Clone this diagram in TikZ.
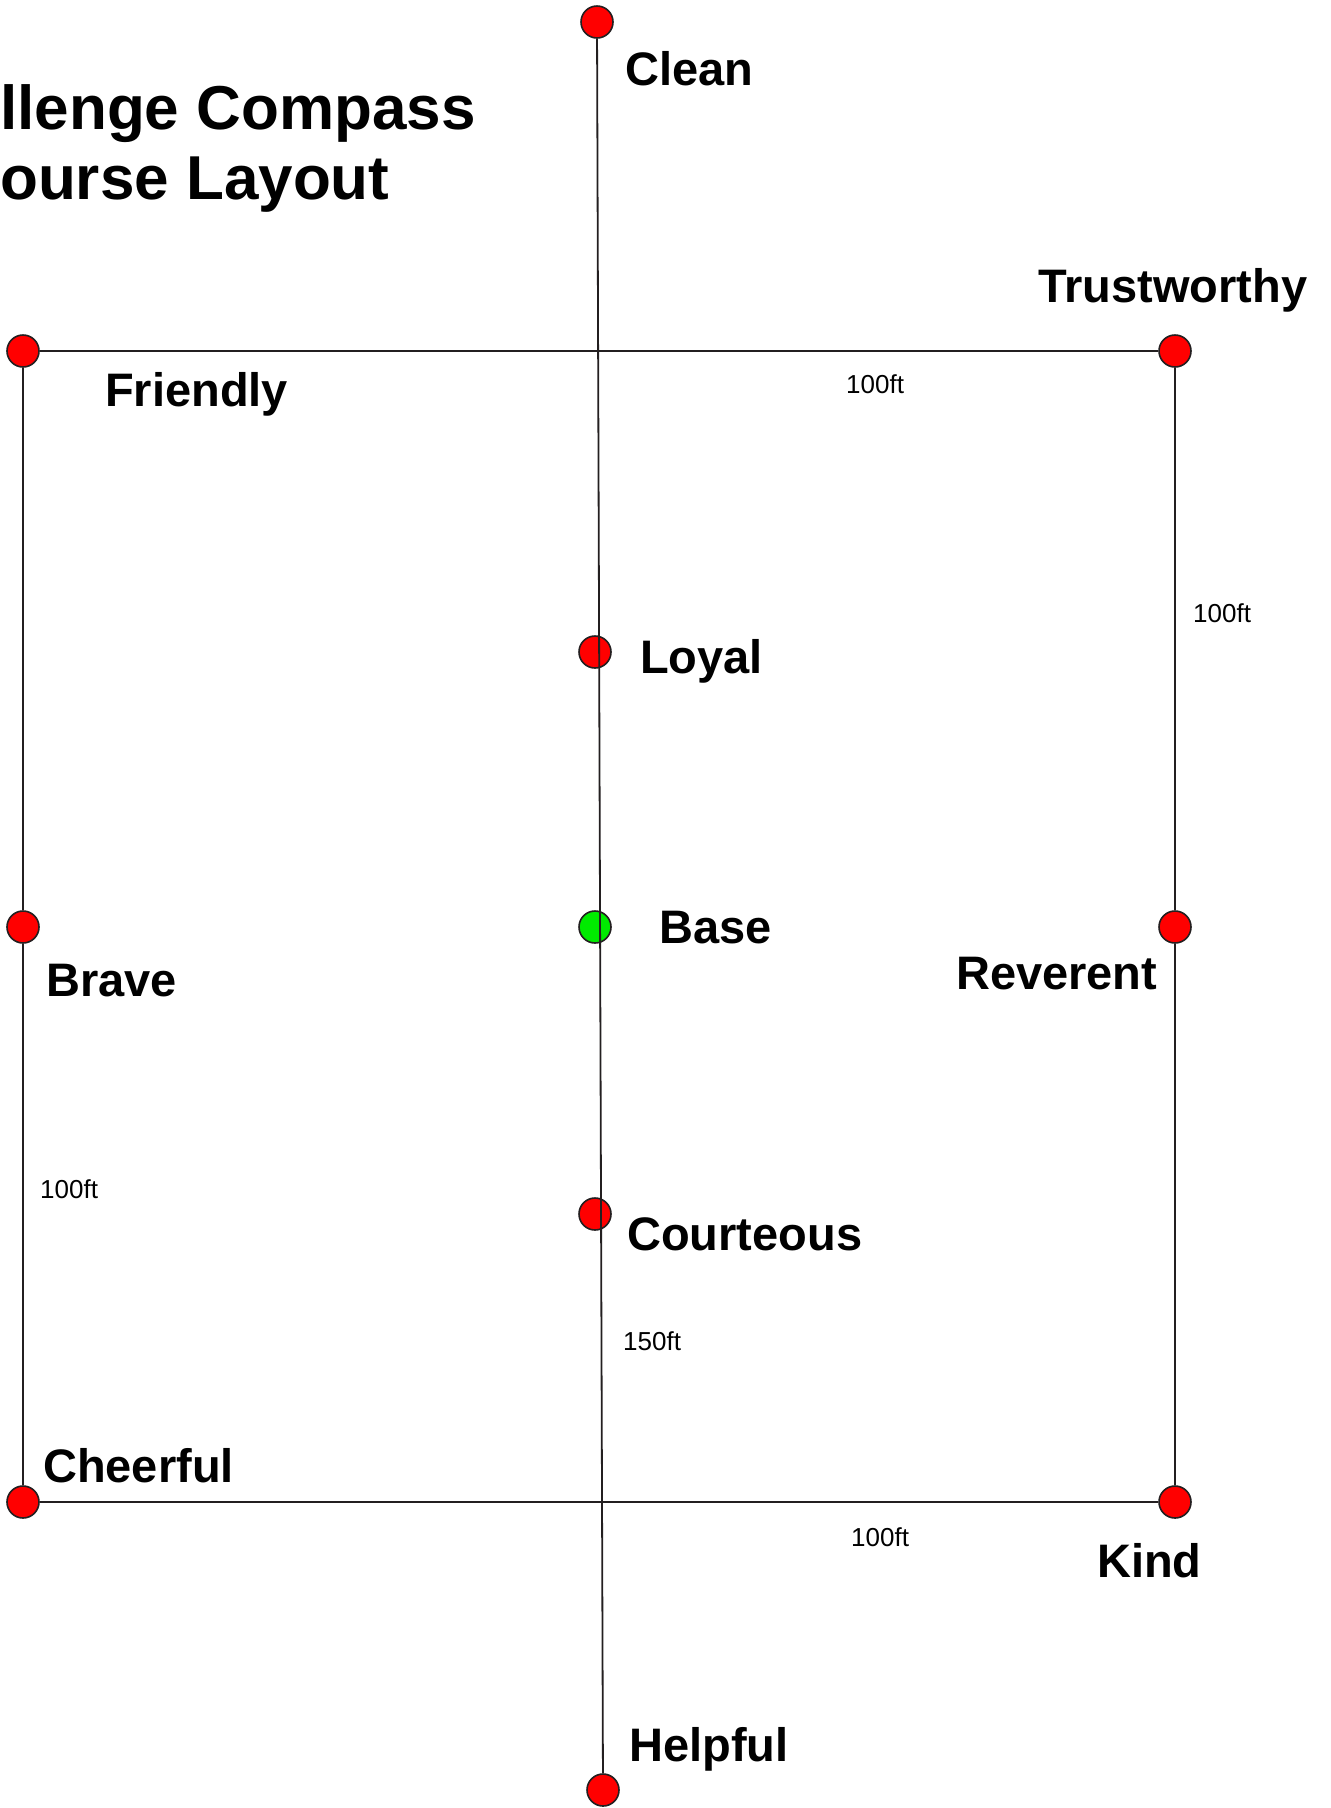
\documentclass[tikz,border=0pt]{standalone}
\usepackage{fontspec}
\setmainfont{Liberation Sans}
\definecolor{ink}{RGB}{35,31,32}
\definecolor{pinred}{RGB}{255,0,0}
\definecolor{pingreen}{RGB}{0,235,0}
\tikzset{
  pin/.style={circle, draw=ink, line width=1.6pt, fill=pinred, minimum size=32pt, inner sep=0pt},
  basepin/.style={pin, fill=pingreen},
  lbl/.style={anchor=base west, inner sep=0pt, font=\fontsize{47}{56}\selectfont\bfseries},
  dist/.style={anchor=base west, inner sep=0pt, font=\fontsize{26}{30}\selectfont},
  ttl/.style={anchor=base west, inner sep=0pt, font=\fontsize{62}{70}\selectfont\bfseries},
  path/.style={draw=ink, line width=1.8pt}
}
\begin{document}
\begin{tikzpicture}[x=1pt,y=-1pt]
\useasboundingbox (0,0) rectangle (1331,1808);
% title (as cut off at the left edge in the reference)
\node[ttl] (t1) at (0,129) {llenge Compass};
\node[ttl] (t2) at (0,199) {ourse Layout};
% pins
\node[pin] (friendly) at (23,351) {};
\node[pin] (trust) at (1175,351) {};
\node[pin] (brave) at (23,927) {};
\node[pin] (reverent) at (1175,927) {};
\node[pin] (cheerful) at (23,1502) {};
\node[pin] (kind) at (1175,1502) {};
\node[pin] (loyal) at (595,652) {};
\node[basepin] (base) at (595,927) {};
\node[pin] (courteous) at (595,1214) {};
\node[pin] (clean) at (597,22) {};
\node[pin] (helpful) at (603,1790) {};
% course lines
\draw[path] (friendly) -- (trust);
\draw[path] (trust) -- (reverent);
\draw[path] (reverent) -- (kind);
\draw[path] (kind) -- (cheerful);
\draw[path] (cheerful) -- (brave);
\draw[path] (brave) -- (friendly);
\draw[path] (clean) -- (helpful);
% labels
\node[lbl] (lclean) at (625,85) {Clean};
\node[lbl] (ltrust) at (1038,302) {Trustworthy};
\node[lbl] (lfriendly) at (105,406) {Friendly};
\node[lbl] (lloyal) at (640,673) {Loyal};
\node[lbl] (lbase) at (659,943) {Base};
\node[lbl] (lbrave) at (46,996) {Brave};
\node[lbl] (lreverent) at (956,989) {Reverent};
\node[lbl] (lcourteous) at (627,1250) {Courteous};
\node[lbl] (lcheerful) at (43,1482) {Cheerful};
\node[lbl] (lkind) at (1097,1577) {Kind};
\node[lbl] (lhelpful) at (629,1761) {Helpful};
% distances
\node[dist] (d1) at (846,393) {100ft};
\node[dist] (d2) at (1193,622) {100ft};
\node[dist] (d3) at (40,1198) {100ft};
\node[dist] (d4) at (623,1350) {150ft};
\node[dist] (d5) at (851,1546) {100ft};
\end{tikzpicture}
\end{document}
